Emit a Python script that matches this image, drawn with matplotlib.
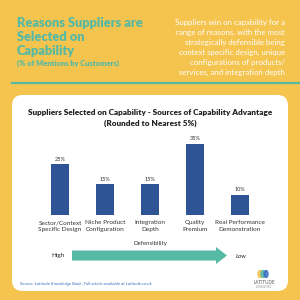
import matplotlib
matplotlib.use("Agg")
import matplotlib.pyplot as plt
from matplotlib.patches import FancyBboxPatch, FancyArrow, Ellipse

plt.rcParams['font.family'] = ['Lato', 'DejaVu Sans']

# data
categories = ['Sector/Context\nSpecific Design', 'Niche Product\nConfiguration',
              'Integration\nDepth', 'Quality\nPremium', 'Real Performance\nDemonstration']
values = [25, 15, 15, 35, 10]
value_labels = ['25%', '15%', '15%', '35%', '10%']

yellow = '#F4C44F'
teal = '#55B9A4'
bar_blue = '#2F5496'

W, H = 300, 300


def fx(px):
  return px / W


def fy(py):
  return 1 - py / H


fig = plt.figure(figsize=(3, 3), dpi=100, facecolor=yellow)

# header
for yy, line in zip([23, 37, 51], ['Reasons Suppliers are', 'Selected on', 'Capability']):
  fig.text(fx(17), fy(yy), line, color=teal, fontsize=9.2,
           fontweight='heavy', va='center', ha='left')
fig.text(fx(17), fy(63), '(% of Mentions by Customers)', color=teal, fontsize=5.4,
         fontweight='heavy', va='center', ha='left')

blurb = ['Suppliers win on capability for a',
         'range of reasons, with the most',
         'strategically defensible being',
         'context specific design, unique',
         'configurations of products/',
         'services, and integration depth']
for i, line in enumerate(blurb):
  fig.text(fx(285), fy(22.5 + i * 10), line, color='white', fontsize=5.7,
           va='center', ha='right')

# teal divider
fig.add_artist(plt.Line2D([fx(12), fx(300)], [fy(83), fy(83)], color=teal,
                          lw=1.6, transform=fig.transFigure))

# white panel
panel = FancyBboxPatch((fx(12), fy(291)), fx(276), (291 - 95) / H,
                       boxstyle='round,pad=0,rounding_size=0.035',
                       transform=fig.transFigure, facecolor='white',
                       edgecolor='none', zorder=0)
fig.add_artist(panel)

fig.text(fx(150), fy(112), 'Suppliers Selected on Capability - Sources of Capability Advantage',
         color='#222222', fontsize=5.9, fontweight='heavy', va='center', ha='center')
fig.text(fx(150), fy(123), '(Rounded to Nearest 5%)',
         color='#222222', fontsize=5.9, fontweight='heavy', va='center', ha='center')

# bars
ax = fig.add_axes([fx(37.5), fy(215), 225 / W, 81.6 / H])
ax.set_zorder(2)
x = range(len(values))
ax.bar(x, values, width=0.38, color=bar_blue)
for xi, v, lab in zip(x, values, value_labels):
  ax.text(xi, v + 1.2, lab, ha='center', va='bottom', fontsize=4, color='#333333')
ax.set_xlim(-0.5, 4.5)
ax.set_ylim(0, 40)
ax.axis('off')

for xi, cat in zip(x, categories):
  fig.text(fx(60 + 45 * xi), fy(226), cat, ha='center', va='center',
           fontsize=4.6, color='#333333', linespacing=1.3)

# defensibility arrow
fig.text(fx(150), fy(244), 'Defensibility', ha='center', va='center',
         fontsize=4.4, color='#333333')
fig.text(fx(58), fy(256), 'High', ha='center', va='center', fontsize=4.5, color='#222222')
fig.text(fx(241), fy(256), 'Low', ha='center', va='center', fontsize=4.5,
         color='#222222', style='italic')
arrow = FancyArrow(fx(72), fy(255.5), fx(155), 0, width=10 / H,
                   head_width=17 / H, head_length=fx(11),
                   length_includes_head=True, transform=fig.transFigure,
                   color=teal, lw=0, zorder=1)
fig.add_artist(arrow)

# source
fig.text(fx(20), fy(284), 'Source: Latitude Knowledge Bank. Full article available at Latitude.co.uk',
         ha='left', va='center', fontsize=3.2, color='#3B6FC4', style='italic')

# logo
for dx, c in zip([-3, 0, 3], ['#F2C14E', '#55B9A4', '#3B6FC4']):
  fig.add_artist(Ellipse((fx(263 + dx), fy(274)), fx(4), 7 / H, color=c,
                         alpha=0.85, transform=fig.transFigure, zorder=1))
fig.text(fx(264), fy(283), 'LATITUDE', ha='center', va='center', fontsize=3.3,
         color='#555555')
fig.text(fx(264), fy(287.5), 'CONSULTING', ha='center', va='center', fontsize=1.8,
         color='#888888')

fig.savefig('out.png', dpi=100, facecolor=yellow)
